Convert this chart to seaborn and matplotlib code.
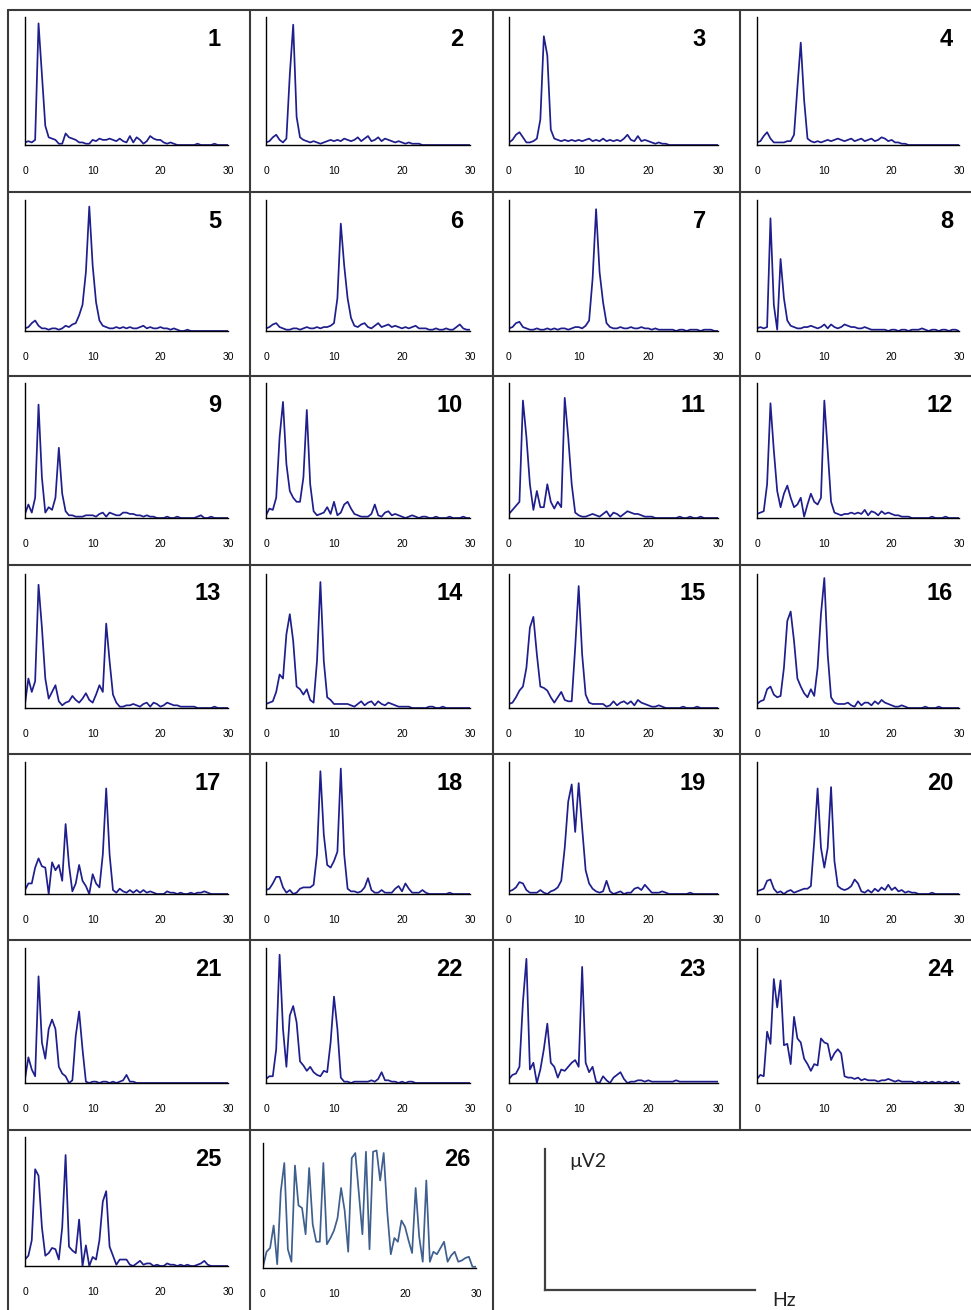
import matplotlib.pyplot as plt
import seaborn as sns
from matplotlib.lines import Line2D

# frequency grid (Hz), shared by every panel
freq_hz = [0, 0.5, 1, 1.5, 2, 2.5, 3, 3.5, 4, 4.5,
           5, 5.5, 6, 6.5, 7, 7.5, 8, 8.5, 9, 9.5,
           10, 10.5, 11, 11.5, 12, 12.5, 13, 13.5, 14, 14.5,
           15, 15.5, 16, 16.5, 17, 17.5, 18, 18.5, 19, 19.5,
           20, 20.5, 21, 21.5, 22, 22.5, 23, 23.5, 24, 24.5,
           25, 25.5, 26, 26.5, 27, 27.5, 28, 28.5, 29, 29.5,
           30]

# power, in % of each panel's axis height
p01 = [2, 3, 2, 4, 95, 55, 15, 6, 5, 4,
       1, 1, 9, 6, 5, 4, 2, 2, 1, 1,
       4, 3, 5, 4, 4, 5, 4, 3, 5, 3,
       2, 7, 2, 6, 4, 1, 3, 7, 5, 4,
       4, 2, 1, 2, 1, 0, 0, 0, 0, 0,
       0, 1, 0, 0, 0, 0, 1, 0, 0, 0,
       0]
p02 = [2, 3, 6, 8, 4, 2, 5, 55, 94, 22,
       6, 4, 3, 2, 3, 2, 1, 2, 3, 4,
       3, 4, 3, 5, 4, 3, 4, 6, 3, 5,
       7, 3, 4, 6, 3, 5, 4, 3, 2, 3,
       2, 1, 2, 1, 1, 1, 0, 0, 0, 0,
       0, 0, 0, 0, 0, 0, 0, 0, 0, 0,
       0]
p03 = [2, 4, 8, 10, 6, 2, 2, 3, 5, 20,
       85, 70, 12, 5, 4, 3, 4, 3, 4, 3,
       4, 3, 4, 5, 3, 4, 3, 5, 3, 4,
       3, 4, 3, 5, 8, 4, 3, 7, 3, 4,
       3, 2, 1, 2, 1, 1, 0, 0, 0, 0,
       0, 0, 0, 0, 0, 0, 0, 0, 0, 0,
       0]
p04 = [2, 3, 7, 10, 5, 2, 2, 2, 2, 3,
       3, 8, 45, 80, 35, 5, 3, 2, 3, 2,
       3, 4, 3, 4, 5, 4, 3, 4, 5, 3,
       4, 5, 3, 4, 5, 3, 4, 6, 5, 3,
       4, 2, 2, 1, 1, 0, 0, 0, 0, 0,
       0, 0, 0, 0, 0, 0, 0, 0, 0, 0,
       0]
p05 = [2, 3, 6, 8, 4, 2, 2, 1, 2, 2,
       1, 2, 4, 3, 5, 6, 12, 20, 45, 95,
       50, 22, 8, 4, 3, 2, 2, 3, 2, 3,
       2, 3, 2, 2, 3, 4, 2, 3, 2, 2,
       3, 2, 2, 1, 2, 1, 0, 0, 1, 0,
       0, 0, 0, 0, 0, 0, 0, 0, 0, 0,
       0]
p06 = [2, 3, 5, 6, 3, 2, 1, 1, 2, 2,
       1, 2, 3, 2, 2, 3, 2, 3, 3, 4,
       6, 25, 82, 50, 25, 10, 4, 3, 5, 6,
       3, 2, 4, 6, 3, 4, 5, 3, 4, 3,
       2, 3, 2, 3, 4, 2, 2, 2, 1, 1,
       2, 1, 1, 2, 1, 1, 3, 5, 2, 1,
       1]
p07 = [2, 3, 6, 7, 3, 2, 1, 1, 2, 1,
       1, 2, 1, 2, 1, 2, 2, 1, 2, 3,
       3, 2, 4, 8, 40, 93, 45, 22, 6, 3,
       2, 2, 3, 2, 2, 3, 2, 2, 3, 2,
       2, 1, 2, 1, 1, 1, 1, 1, 0, 1,
       1, 0, 1, 1, 1, 0, 1, 1, 1, 0,
       0]
p08 = [2, 3, 2, 3, 86, 20, 1, 55, 25, 8,
       4, 3, 2, 2, 3, 3, 4, 3, 2, 3,
       5, 2, 5, 3, 2, 3, 5, 4, 3, 3,
       2, 2, 3, 2, 1, 1, 1, 1, 1, 0,
       1, 1, 0, 1, 1, 0, 1, 1, 1, 2,
       1, 0, 1, 1, 0, 1, 1, 0, 1, 1,
       0]
p09 = [3, 10, 4, 15, 84, 30, 4, 8, 6, 15,
       52, 18, 5, 2, 2, 1, 1, 1, 2, 2,
       2, 1, 3, 4, 1, 4, 3, 2, 2, 4,
       4, 3, 3, 2, 2, 1, 2, 1, 1, 0,
       0, 0, 1, 0, 0, 1, 0, 0, 0, 0,
       0, 1, 2, 0, 0, 1, 0, 0, 0, 0,
       0]
p10 = [2, 7, 6, 15, 60, 86, 40, 20, 15, 12,
       12, 30, 80, 25, 5, 2, 3, 4, 8, 3,
       12, 2, 4, 10, 12, 7, 3, 2, 1, 1,
       1, 3, 10, 2, 1, 4, 5, 2, 3, 2,
       1, 0, 1, 2, 1, 0, 1, 1, 0, 0,
       1, 0, 0, 0, 1, 0, 0, 0, 1, 0,
       0]
p11 = [3, 6, 9, 12, 87, 60, 25, 6, 20, 8,
       8, 25, 12, 7, 12, 8, 89, 60, 25, 4,
       2, 1, 1, 2, 3, 2, 1, 3, 5, 1,
       4, 3, 1, 3, 5, 4, 3, 3, 2, 1,
       1, 1, 0, 0, 0, 0, 0, 0, 0, 1,
       0, 0, 1, 0, 0, 1, 0, 0, 0, 0,
       0]
p12 = [3, 4, 5, 25, 85, 50, 20, 8, 18, 24,
       15, 8, 10, 15, 1, 10, 18, 12, 10, 15,
       87, 50, 12, 4, 3, 2, 3, 3, 4, 3,
       4, 3, 6, 2, 5, 4, 2, 5, 3, 4,
       3, 2, 2, 1, 1, 1, 0, 0, 0, 0,
       0, 0, 1, 0, 0, 0, 1, 0, 0, 0,
       0]
p13 = [3, 22, 12, 20, 92, 60, 22, 7, 12, 17,
       5, 2, 4, 5, 9, 6, 4, 7, 11, 6,
       4, 10, 17, 12, 63, 35, 10, 4, 1, 1,
       2, 2, 3, 2, 1, 3, 4, 1, 4, 3,
       1, 2, 4, 3, 2, 2, 1, 1, 1, 1,
       1, 0, 0, 0, 0, 0, 1, 0, 0, 0,
       0]
p14 = [3, 4, 5, 12, 25, 22, 55, 70, 50, 16,
       14, 10, 14, 6, 4, 35, 94, 35, 8, 6,
       3, 3, 3, 3, 3, 2, 1, 3, 5, 2,
       4, 5, 2, 5, 3, 2, 4, 3, 2, 1,
       1, 1, 1, 0, 0, 0, 0, 0, 1, 1,
       0, 0, 1, 0, 0, 0, 0, 0, 0, 0,
       0]
p15 = [3, 4, 8, 13, 16, 30, 60, 68, 40, 16,
       15, 13, 8, 4, 8, 12, 6, 5, 5, 45,
       91, 40, 10, 4, 3, 3, 3, 3, 1, 2,
       5, 2, 4, 5, 3, 5, 2, 6, 4, 3,
       2, 1, 1, 2, 1, 0, 0, 0, 0, 0,
       1, 0, 0, 0, 1, 0, 0, 0, 0, 0,
       0]
p16 = [3, 5, 6, 14, 16, 10, 8, 9, 30, 65,
       72, 50, 22, 16, 11, 8, 14, 9, 30, 70,
       97, 40, 8, 4, 3, 3, 3, 4, 2, 1,
       5, 2, 4, 4, 2, 5, 3, 6, 4, 3,
       2, 1, 1, 2, 1, 0, 0, 0, 0, 0,
       1, 0, 0, 0, 1, 0, 0, 0, 0, 0,
       0]
p17 = [3, 8, 8, 20, 27, 21, 20, 0, 24, 18,
       22, 10, 53, 22, 2, 8, 22, 10, 6, 0,
       15, 8, 5, 30, 80, 30, 3, 1, 4, 2,
       1, 3, 1, 3, 1, 3, 1, 2, 1, 0,
       0, 0, 2, 1, 1, 0, 1, 0, 0, 1,
       0, 1, 1, 2, 1, 0, 0, 0, 0, 0,
       0]
p18 = [3, 4, 8, 13, 13, 5, 1, 3, 0, 1,
       4, 5, 5, 5, 7, 30, 93, 45, 22, 20,
       25, 32, 95, 30, 4, 2, 2, 1, 2, 5,
       12, 3, 1, 1, 3, 1, 1, 1, 4, 6,
       2, 8, 4, 1, 1, 1, 3, 1, 0, 0,
       0, 0, 0, 0, 1, 0, 0, 0, 0, 0,
       0]
p19 = [2, 3, 5, 9, 8, 3, 1, 1, 1, 3,
       1, 0, 2, 3, 5, 10, 35, 70, 83, 47,
       84, 50, 18, 8, 4, 2, 1, 2, 10, 2,
       0, 1, 2, 0, 1, 1, 4, 5, 3, 7,
       4, 1, 1, 1, 2, 1, 0, 0, 0, 0,
       0, 0, 1, 0, 0, 0, 0, 0, 0, 0,
       0]
p20 = [2, 3, 4, 10, 11, 4, 1, 2, 0, 2,
       3, 1, 2, 3, 4, 4, 6, 40, 80, 35,
       20, 35, 81, 25, 6, 4, 3, 4, 6, 11,
       8, 2, 1, 3, 1, 4, 2, 5, 3, 7,
       3, 5, 2, 3, 1, 2, 1, 1, 0, 0,
       0, 0, 1, 0, 0, 0, 0, 0, 0, 0,
       0]
p21 = [3, 19, 10, 5, 79, 30, 18, 40, 47, 40,
       12, 7, 5, 0, 2, 35, 53, 25, 1, 0,
       1, 1, 0, 1, 1, 0, 1, 0, 1, 2,
       6, 1, 1, 0, 0, 0, 0, 0, 0, 0,
       0, 0, 0, 0, 0, 0, 0, 0, 0, 0,
       0, 0, 0, 0, 0, 0, 0, 0, 0, 0,
       0]
p22 = [3, 5, 5, 25, 95, 40, 12, 50, 57, 45,
       16, 13, 9, 12, 8, 6, 5, 9, 8, 30,
       64, 40, 4, 1, 1, 0, 1, 1, 1, 1,
       1, 2, 1, 3, 8, 2, 2, 1, 1, 0,
       1, 0, 1, 1, 0, 0, 0, 0, 0, 0,
       0, 0, 0, 0, 0, 0, 0, 0, 0, 0,
       0]
p23 = [3, 6, 7, 12, 60, 92, 10, 15, 0, 10,
       25, 44, 15, 12, 4, 10, 9, 12, 15, 17,
       12, 86, 15, 8, 12, 1, 0, 5, 2, 0,
       4, 6, 8, 3, 0, 1, 1, 2, 2, 1,
       2, 1, 1, 1, 1, 1, 1, 1, 2, 1,
       1, 1, 1, 1, 1, 1, 1, 1, 1, 1,
       1]
p24 = [3, 6, 5, 38, 29, 77, 56, 76, 28, 29,
       14, 49, 33, 30, 18, 14, 9, 14, 13, 33,
       30, 29, 17, 22, 25, 22, 5, 4, 4, 3,
       4, 2, 3, 2, 2, 2, 1, 2, 2, 3,
       2, 1, 2, 1, 1, 1, 1, 0, 1, 0,
       1, 0, 1, 0, 1, 0, 1, 0, 1, 0,
       1]
p25 = [5, 8, 20, 75, 70, 30, 8, 10, 14, 13,
       5, 30, 86, 15, 12, 10, 36, 0, 16, 0,
       7, 5, 20, 50, 58, 15, 8, 1, 5, 5,
       5, 1, 0, 2, 4, 1, 2, 2, 0, 1,
       0, 0, 2, 1, 1, 0, 1, 0, 1, 0,
       0, 1, 2, 4, 1, 0, 0, 0, 0, 0,
       0]
p26 = [1, 13, 16, 34, 3, 61, 84, 15, 5, 82,
       50, 48, 27, 80, 35, 21, 21, 84, 19, 24,
       30, 40, 64, 46, 13, 88, 92, 60, 27, 93,
       15, 93, 94, 70, 92, 45, 11, 24, 21, 38,
       33, 22, 12, 64, 25, 5, 70, 5, 13, 11,
       16, 21, 5, 10, 13, 5, 6, 8, 9, 1,
       1]

panels = [p01, p02, p03, p04, p05, p06, p07, p08, p09, p10, p11, p12, p13,
          p14, p15, p16, p17, p18, p19, p20, p21, p22, p23, p24, p25, p26]
panel_labels = [str(n) for n in range(1, 27)]
x_ticks = [0, 10, 20, 30]

W, H = 971, 1310
sns.set_style("white")
plt.rcParams['font.family'] = ['Liberation Sans', 'DejaVu Sans']

fig = plt.figure(figsize=(W / 100, H / 100), dpi=100)


def box(x0, y0, x1, y1):
    # pixel box (top-left origin) -> figure fraction rect
    return [x0 / W, 1 - y1 / H, (x1 - x0) / W, (y1 - y0) / H]


cell_left = [8, 250, 493, 740]
cell_top = [10, 192, 376, 565, 754, 940, 1130]
col_x = [(25, 228), (266, 470), (509, 718), (757, 959)]
row_y = [(17, 145), (200, 331), (383, 518), (574, 708),
         (762, 894), (948, 1083), (1137, 1266)]

for i, vals in enumerate(panels):
    r, c = divmod(i, 4)
    x0, x1 = col_x[c]
    y0, y1 = row_y[r]
    color = "#1e1e8c"
    num_x = cell_left[c] + 213
    if i == 25:
        x0, x1, y0, y1 = 263, 476, 1143, 1268
        color = "#3f5f8f"
        num_x = 470
    ax = fig.add_axes(box(x0, y0, x1, y1))
    sns.lineplot(x=freq_hz, y=vals, ax=ax, color=color, linewidth=1.25)
    ax.set_xlim(0, 30)
    ax.set_ylim(0, 100)
    ax.set_xticks(x_ticks)
    ax.set_yticks([])
    ax.set_xlabel("")
    ax.set_ylabel("")
    ax.patch.set_alpha(0)
    for s in ["top", "right"]:
        ax.spines[s].set_visible(False)
    for s in ["left", "bottom"]:
        ax.spines[s].set_color("black")
        ax.spines[s].set_linewidth(1.0)
    ax.tick_params(axis="x", direction="inout", length=6, width=1,
                   pad=12, labelsize=7.5, colors="black")
    fig.text(num_x / W, 1 - (cell_top[r] + 29) / H, panel_labels[i],
             ha="right", va="center", fontsize=17, fontweight="bold",
             color="black")

# table borders
border = dict(color="#3a3a3a", linewidth=1.5, transform=fig.transFigure)
for y in cell_top:
    fig.add_artist(Line2D([8 / W, 1], [1 - y / H, 1 - y / H], **border))
for x, ybot in [(8, H), (250, H), (493, H), (740, 1130)]:
    fig.add_artist(Line2D([x / W, x / W], [1 - 10 / H, 1 - ybot / H], **border))

# units key
key = fig.add_axes(box(545, 1149, 755, 1290))
key.set_xticks([])
key.set_yticks([])
key.patch.set_alpha(0)
for s in ["top", "right"]:
    key.spines[s].set_visible(False)
for s in ["left", "bottom"]:
    key.spines[s].set_color("#404040")
    key.spines[s].set_linewidth(1.6)
fig.text(569 / W, 1 - 1162 / H, "µV2", fontsize=14, family="Lato",
         ha="left", va="center", color="#222222")
fig.text(772 / W, 1 - 1300 / H, "Hz", fontsize=14, family="Lato",
         ha="left", va="center", color="#222222")

fig.savefig("out.png", dpi=100)
